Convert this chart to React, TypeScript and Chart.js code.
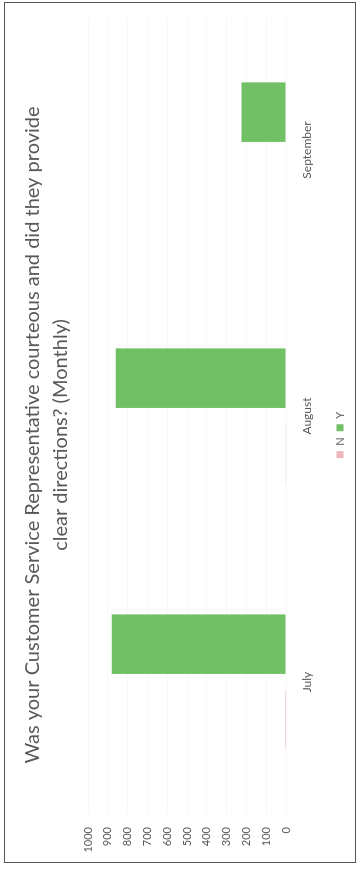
import React, { useEffect, useRef } from "react";
import { Chart, registerables } from "chart.js";

Chart.register(...registerables);

const categories = ["July", "August", "September"];
const seriesN = [5, 4, 2];
const seriesY = [880, 860, 225];
const valueMin = 0;
const valueMax = 1000;
const valueStep = 100;
const titleLines = [
  "Was your Customer Service Representative courteous and did they provide",
  "clear directions? (Monthly)",
];
const seriesNames = ["N", "Y"];

const FONT = "Lato, 'Open Sans', sans-serif";
const TEXT = "#595959";

export default function App() {
  const ref = useRef<HTMLCanvasElement | null>(null);

  useEffect(() => {
    if (!ref.current) return;
    const chart = new Chart(ref.current, {
      type: "bar",
      data: {
        labels: categories,
        datasets: [
          {
            label: seriesNames[0],
            data: seriesN,
            backgroundColor: "#ecb6bb",
            categoryPercentage: 0.569,
            barPercentage: 0.787,
          },
          {
            label: seriesNames[1],
            data: seriesY,
            backgroundColor: "#71c066",
            categoryPercentage: 0.569,
            barPercentage: 0.787,
          },
        ],
      },
      options: {
        responsive: false,
        animation: false,
        layout: { padding: { left: 18, right: 17, top: 0, bottom: 4.5 } },
        plugins: {
          title: {
            display: true,
            text: titleLines,
            color: TEXT,
            font: { family: FONT, size: 20, weight: "normal", lineHeight: 1.4 },
            padding: { top: 19, bottom: 13 },
          },
          legend: {
            display: true,
            position: "bottom",
            labels: {
              color: TEXT,
              font: { family: FONT, size: 11 },
              boxWidth: 7,
              boxHeight: 7,
              padding: 6,
            },
          },
          tooltip: { enabled: false },
        },
        scales: {
          x: {
            grid: { display: false, drawTicks: false },
            border: { display: false },
            ticks: { color: TEXT, font: { family: FONT, size: 12 }, padding: 14, maxRotation: 0 },
            afterFit: (s: any) => {
              s.height = 42.5;
            },
          },
          y: {
            min: valueMin,
            max: valueMax,
            ticks: {
              stepSize: valueStep,
              color: TEXT,
              font: { family: FONT, size: 11 },
              padding: 12,
              callback: (v: any) => String(v),
            },
            grid: { color: "#f8f8f8", drawTicks: false },
            border: { display: false },
            afterFit: (s: any) => {
              s.width = 38;
            },
          },
        },
      },
    });
    return () => chart.destroy();
  }, []);

  return (
    <div
      style={{
        position: "fixed",
        left: 0,
        top: 0,
        width: 360,
        height: 871,
        background: "#ffffff",
        overflow: "hidden",
      }}
    >
      <div
        style={{
          position: "absolute",
          left: 0,
          top: 0,
          width: 871,
          height: 360,
          transformOrigin: "0 0",
          transform: "translateY(871px) rotate(-90deg)",
        }}
      >
        <canvas ref={ref} width={871} height={360} style={{ display: "block" }} />
      </div>
      <div
        style={{
          position: "absolute",
          left: 4,
          top: 2,
          width: 350,
          height: 859,
          border: "1.5px solid #555",
          pointerEvents: "none",
        }}
      />
    </div>
  );
}
